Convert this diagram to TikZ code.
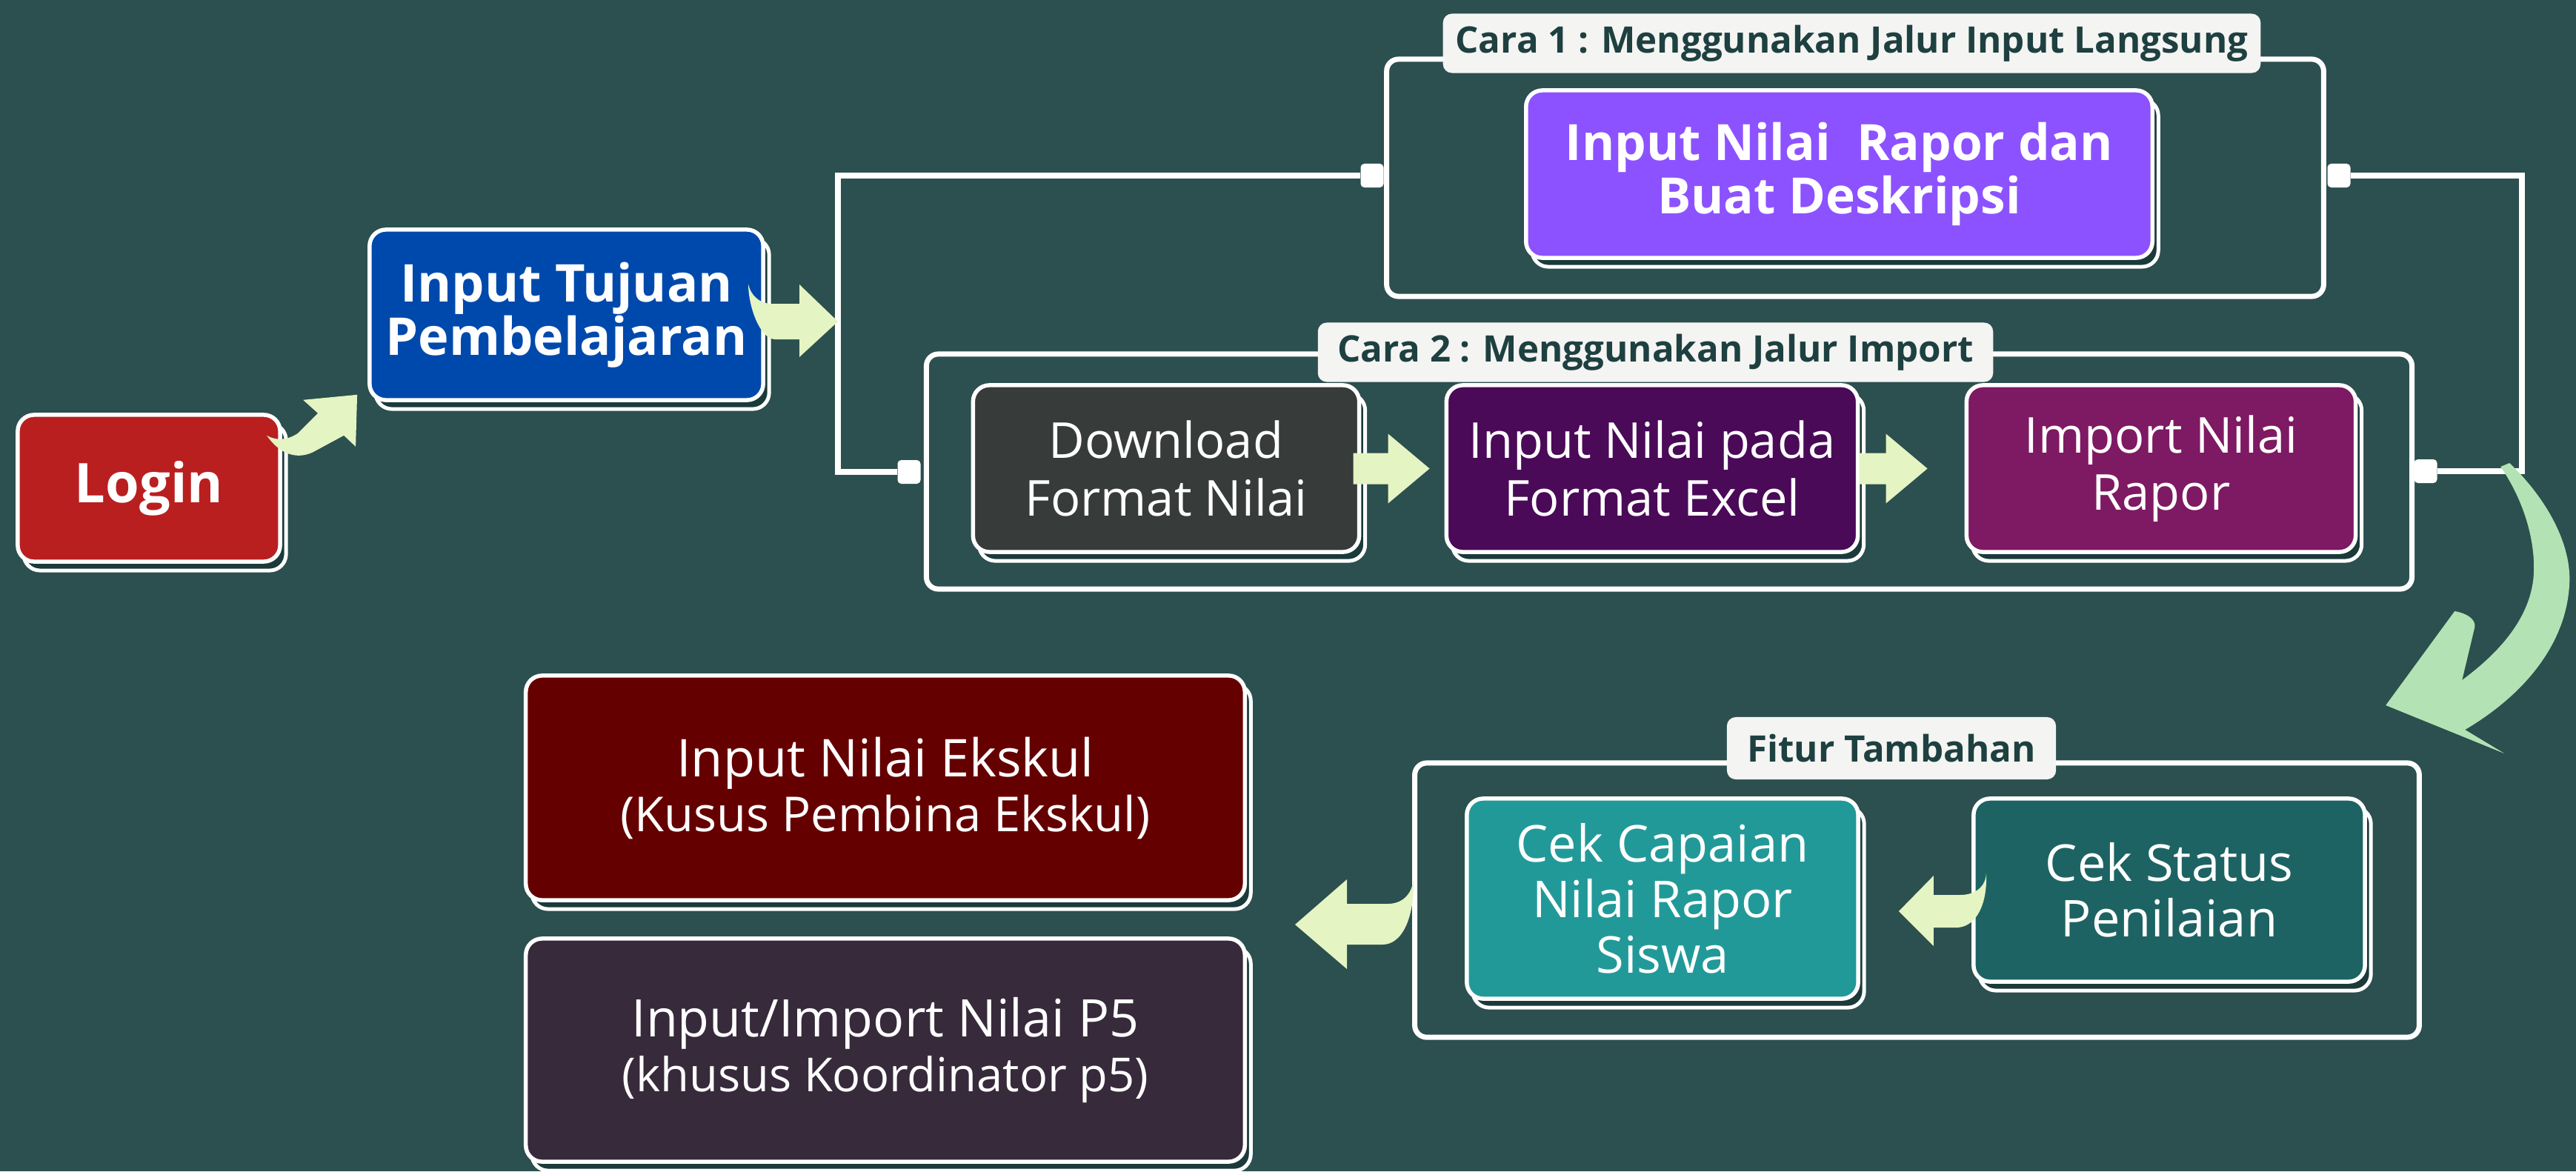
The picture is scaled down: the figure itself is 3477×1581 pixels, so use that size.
\documentclass[tikz,border=0pt]{standalone}
\usepackage{fontspec}
\setmainfont{Open Sans}
\usetikzlibrary{shadows,calc}
\definecolor{bg}{HTML}{2C4F4F}
\definecolor{arrowc}{HTML}{E4F4C2}
\definecolor{bigc}{HTML}{B3E3B5}
\definecolor{loginred}{HTML}{BA1F1F}
\definecolor{tujuanblue}{HTML}{0049AC}
\definecolor{raporpurple}{HTML}{8C52FF}
\definecolor{dlgrey}{HTML}{373B39}
\definecolor{padapurple}{HTML}{4A0A58}
\definecolor{importmag}{HTML}{7E1963}
\definecolor{ekskulred}{HTML}{650000}
\definecolor{p5purple}{HTML}{372A3B}
\definecolor{capaianteal}{HTML}{229999}
\definecolor{statusteal}{HTML}{1E6363}
\definecolor{shadowc}{HTML}{1B3A3A}
\definecolor{labelc}{HTML}{F4F4F2}
\definecolor{labtext}{HTML}{1E4040}
\begin{document}
\begin{tikzpicture}[x=0.01cm,y=-0.01cm,
  box/.style={draw=white, line width=0.055cm, rounded corners=0.22cm, fill=#1, text=white,
    align=center, inner sep=0pt,
    general shadow={shadow xshift=0.08cm, shadow yshift=-0.12cm, fill=shadowc, draw=white, line width=0.05cm}},
  grp/.style={draw=white, line width=0.07cm, rounded corners=0.16cm, inner sep=0pt},
  lab/.style={fill=labelc, rounded corners=0.12cm, text=labtext, inner sep=0pt,
    font=\bfseries\fontsize{14}{16}\selectfont, minimum height=0.8cm},
  sq/.style={fill=white, rounded corners=0.05cm, minimum width=0.31cm, minimum height=0.32cm, inner sep=0pt},
  conn/.style={draw=white, line width=0.08cm},
  arr/.style={fill=arrowc},
  bigarr/.style={fill=bigc},
  boldtxt/.style={font=\bfseries\fontsize{20}{20.5}\selectfont},
  plaintxt/.style={font=\fontsize{19}{22}\selectfont}
]
\useasboundingbox (0,0) rectangle (3477,1581);
\fill[bg] (0,0) rectangle (3477,1581);

% group frames
\node[grp, minimum width=12.64cm, minimum height=3.2cm] (g1) at (2504,240) {};
\node[grp, minimum width=20.04cm, minimum height=3.17cm] (g2) at (2253,636.5) {};
\node[grp, minimum width=13.55cm, minimum height=3.7cm] (g3) at (2587.5,1215) {};

% connector squares and junctions
\node[sq] (s1l) at (1852,237) {};
\node[sq] (s1r) at (3157,237) {};
\node[sq] (s2l) at (1227,637) {};
\node[sq] (s2r) at (3274,636) {};
\coordinate (jl) at (1131,434);
\coordinate (jr) at (3404,434);

% boxes
\node[box=loginred, minimum width=3.54cm, minimum height=1.98cm,
  font=\bfseries\fontsize{21}{24}\selectfont] (login) at (201,659) {Login};
\node[box=tujuanblue, minimum width=5.31cm, minimum height=2.3cm, boldtxt] (tujuan) at (764.5,425)
  {Input Tujuan\\Pembelajaran};
\node[box=raporpurple, minimum width=8.45cm, minimum height=2.26cm,
  font=\bfseries\fontsize{19.2}{20.5}\selectfont] (rapor) at (2482.5,235)
  {Input Nilai~~Rapor dan\\Buat Deskripsi};
\node[box=dlgrey, minimum width=5.21cm, minimum height=2.25cm, plaintxt] (download) at (1574,632.5)
  {Download\\Format Nilai};
\node[box=padapurple, minimum width=5.55cm, minimum height=2.25cm, plaintxt] (pada) at (2230,632.5)
  {Input Nilai pada\\Format Excel};
\node[box=importmag, minimum width=5.25cm, minimum height=2.25cm, plaintxt] (import) at (2917,632.5)
  {Import Nilai\\Rapor};
\node[box=capaianteal, minimum width=5.28cm, minimum height=2.7cm,
  font=\fontsize{19.5}{21.3}\selectfont] (capaian) at (2244,1213)
  {Cek Capaian\\Nilai Rapor\\Siswa};
\node[box=statusteal, minimum width=5.28cm, minimum height=2.47cm,
  font=\fontsize{19.5}{21.3}\selectfont] (status) at (2928,1201.5)
  {Cek Status\\Penilaian};
\node[box=ekskulred, minimum width=9.7cm, minimum height=3.03cm,
  font=\fontsize{20}{21}\selectfont] (ekskul) at (1195,1063.5)
  {Input Nilai Ekskul\\{\fontsize{18.5}{21}\selectfont (Kusus Pembina Ekskul)}};
\node[box=p5purple, minimum width=9.7cm, minimum height=3.01cm,
  font=\fontsize{19.9}{21}\selectfont] (p5) at (1195,1417.5)
  {Input/Import Nilai P5\\{\fontsize{18}{21}\selectfont (khusus Koordinator p5)}};

% group labels
\node[lab, minimum width=11.03cm] (l1) at (2499.5,58.5) {Cara 1 : Menggunakan Jalur Input Langsung};
\node[lab, minimum width=9.11cm] (l2) at (2234.5,475.5) {Cara 2 : Menggunakan Jalur Import};
\node[lab, minimum width=4.44cm, minimum height=0.84cm] (l3) at (2553,1010) {Fitur Tambahan};

% branch connectors
\draw[conn] (s1l.west) -| (jl) |- (s2l.west);
\draw[conn] (s1r.east) -| (jr) |- (s2r.east);

% block arrows
\begin{scope}[shift={($(tujuan.south west)+(-14,-10)$)}]
\fill[arr] (-122,55) .. controls (-105,80) and (-80,90) .. (-55,75) -- (-18,55) -- (-2,70) -- (0,0)
  -- (-73,7) -- (-53,25) -- (-80,52) .. controls (-95,62) and (-110,62) .. (-122,55) -- cycle;
\end{scope}
\begin{scope}[shift={(jl)}]
\fill[arr] (0,0) -- (-52,-50) -- (-52,-24) -- (-90,-24) .. controls (-105,-24) and (-118,-35) .. (-121,-51)
  .. controls (-121,-20) and (-105,24) .. (-85,24) -- (-52,24) -- (-52,48) -- cycle;
\end{scope}
\begin{scope}[shift={($(pada.west)+(-20,0)$)}]
\fill[arr] (0,0) -- (-56,-47) -- (-56,-21) -- (-103,-21) -- (-103,21) -- (-56,21) -- (-56,47) -- cycle;
\end{scope}
\begin{scope}[shift={($(import.west)+(-50,0)$)}]
\fill[arr] (0,0) -- (-56,-47) -- (-56,-21) -- (-92,-21) -- (-92,21) -- (-56,21) -- (-56,47) -- cycle;
\end{scope}
\begin{scope}[shift={($(capaian.east)+(52,17)$)}]
\fill[arr] (0,0) -- (47,-48) -- (47,-22) -- (83,-22) .. controls (105,-22) and (118,-35) .. (118,-52)
  .. controls (120,-10) and (105,20) .. (80,22) -- (47,22) -- (47,47) -- cycle;
\end{scope}
\begin{scope}[shift={($(ekskul.south east)!0.5!(p5.north east)+(65,7)$)}]
\fill[arr] (0,0) -- (70,-61) -- (70,-28) -- (125,-28) .. controls (148,-28) and (160,-45) .. (160,-66)
  .. controls (162,-10) and (145,27) .. (118,27) -- (70,27) -- (70,60) -- cycle;
\end{scope}
\begin{scope}[shift={(s2r.east)}]
\fill[bigarr] (97,-11) .. controls (150,40) and (180,100) .. (178,150)
  .. controls (175,230) and (120,300) .. (37,349) -- (90,381) -- (-70,316) -- (23,189)
  .. controls (40,192) and (52,200) .. (50,211) -- (33,282)
  .. controls (90,240) and (130,190) .. (130,131) .. controls (130,80) and (110,30) .. (85,-6) -- cycle;
\end{scope}
\end{tikzpicture}
\end{document}
